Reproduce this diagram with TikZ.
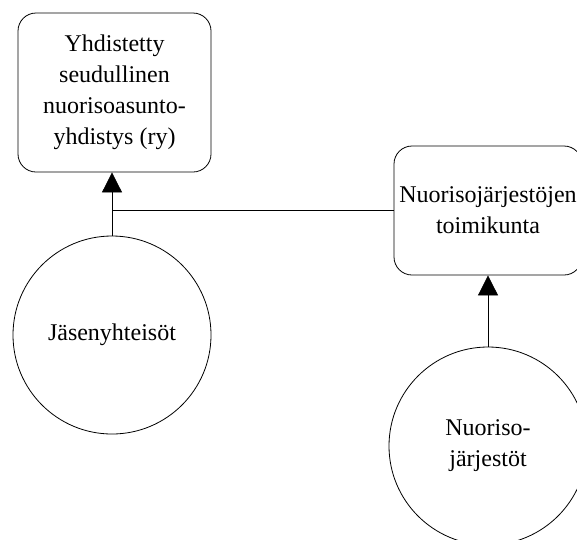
\documentclass[tikz,border=0pt]{standalone}
\usepackage{fontspec}
\setmainfont{Liberation Serif}
\usetikzlibrary{arrows.meta,positioning}

\begin{document}
\begin{tikzpicture}[
    x=1pt,y=-1pt,
    every node/.style={align=center,font=\fontsize{24}{31}\selectfont},
    org/.style={rectangle,rounded corners=18pt,draw=black,line width=0.8pt,inner sep=2pt},
    member/.style={circle,draw=black,line width=0.8pt,minimum size=198pt,inner sep=2pt},
    arrow/.style={-{Triangle[length=20pt,width=20pt]},line width=0.8pt},
    link/.style={line width=0.8pt}
]
\useasboundingbox (0,0) rectangle (577,539);

% =====================
% ORGANISATIONS
% =====================
\node[org,minimum width=193pt,minimum height=159pt] (ry) at (114.5,92.5) {
Yhdistetty\\
seudullinen\\
nuorisoasunto-\\
yhdistys (ry)
};

\node[org,minimum width=188pt,minimum height=129pt] (toimikunta) at (488,210.5) {
Nuorisojärjestöjen\\
toimikunta
};

% =====================
% MEMBERS
% =====================
\node[member] (jasenet) at (112,335) {Jäsenyhteisöt};

\node[member] (jarjestot) at (488,446) {
Nuoriso-\\
järjestöt
};

% Connections
\draw[arrow] (jasenet.north) -- (jasenet.north |- ry.south);
\draw[arrow] (jarjestot) -- (toimikunta);
\draw[link] (toimikunta.west) -- (toimikunta.west -| jasenet.north);

\end{tikzpicture}
\end{document}
